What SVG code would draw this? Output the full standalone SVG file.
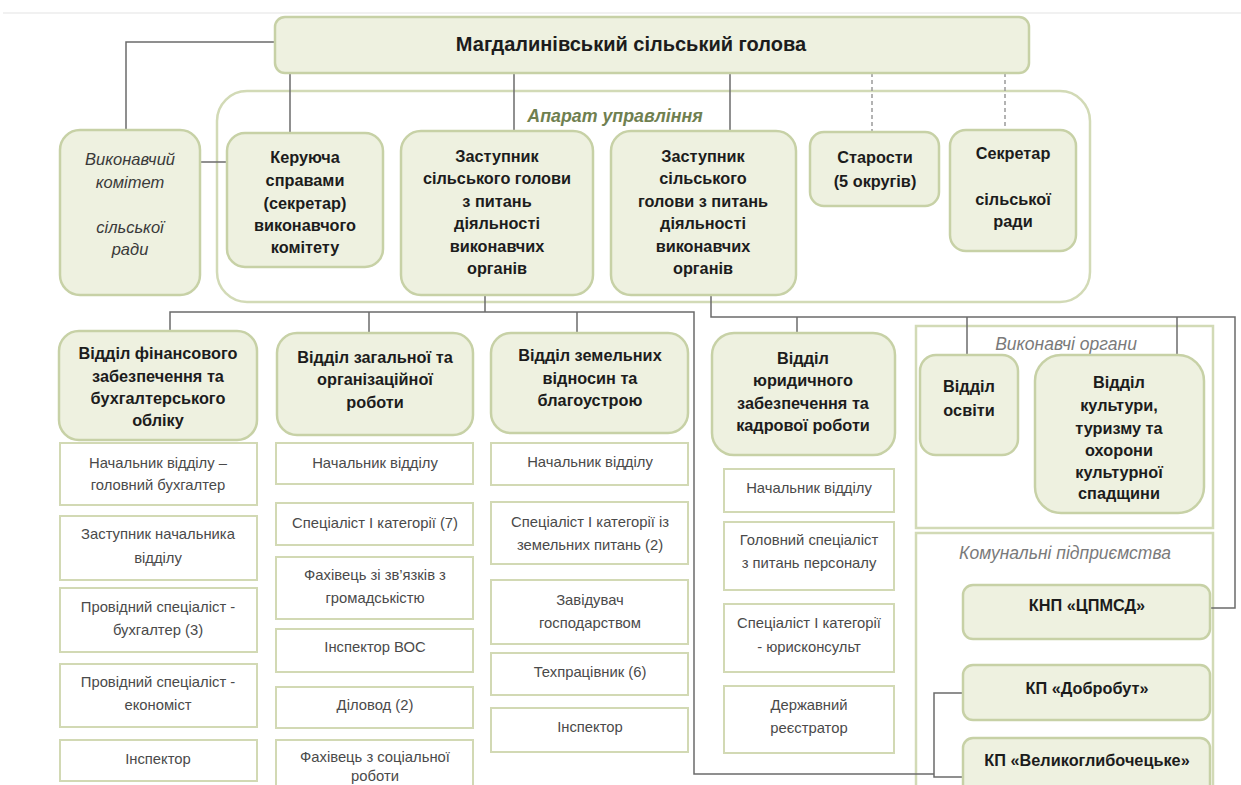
<svg xmlns="http://www.w3.org/2000/svg" width="1241" height="785" viewBox="0 0 1241 785">
<style>
.box{fill:#eef1e0;stroke:#c7d1a6;stroke-width:2.5}
.sub{fill:#fff;stroke:#d2d9b4;stroke-width:2}
.cont{fill:#fff;stroke:#d2dab6;stroke-width:2.5}
.t{font-family:"Liberation Sans",Arial,sans-serif;font-weight:bold;font-size:16.3px;fill:#1c1c1c;text-anchor:middle;dominant-baseline:central}
.s{font-family:"Liberation Sans",Arial,sans-serif;font-size:14.8px;fill:#4a4a4a;text-anchor:middle;dominant-baseline:central}
.i{font-family:"Liberation Sans",Arial,sans-serif;font-style:italic;font-size:16.5px;text-anchor:middle;dominant-baseline:central}
.ln{stroke:#6b6b6b;stroke-width:1.5;fill:none}
.dash{stroke:#9a9a9a;stroke-width:1.5;stroke-dasharray:4 3;fill:none}
</style>
<rect width="1241" height="785" fill="#fff"/>
<line x1="3" y1="13" x2="1241" y2="13" stroke="#ececec" stroke-width="1.5"/>

<g id="containers">
<rect class="cont" x="217" y="91" width="873" height="211" rx="30"/>
<text class="i" x="615" y="116" style="font-weight:bold;font-size:17.8px;fill:#6f8050">Апарат управління</text>
<rect class="cont" x="916" y="326" width="297" height="202"/>
<text class="i" x="1066" y="344" style="font-size:17.5px" fill="#7a7a7a">Виконавчі органи</text>
<rect class="cont" x="916" y="533" width="297" height="270"/>
<text class="i" x="1065" y="553" style="font-size:17.5px" fill="#7a7a7a">Комунальні підприємства</text>
</g>

<g id="connectors">
<polyline class="ln" points="275,42 126,42 126,130"/>
<line class="ln" x1="290" y1="73" x2="290" y2="133"/>
<line class="ln" x1="514" y1="73" x2="514" y2="131"/>
<line class="ln" x1="730" y1="73" x2="730" y2="131"/>
<line class="dash" x1="872" y1="73" x2="872" y2="132"/>
<line class="dash" x1="1005" y1="73" x2="1005" y2="130"/>
<line class="ln" x1="200" y1="162" x2="227" y2="162"/>
<line class="ln" x1="485" y1="295" x2="485" y2="312"/>
<polyline class="ln" points="170,333 170,312 694,312 694,774 934,774"/>
<line class="ln" x1="369" y1="312" x2="369" y2="333"/>
<line class="ln" x1="577" y1="312" x2="577" y2="333"/>
<polyline class="ln" points="963,693 934,693 934,777 963,777"/>
<polyline class="ln" points="711,295 711,317 1235,317 1235,608 1210,608"/>
<line class="ln" x1="797" y1="317" x2="797" y2="335"/>
<line class="ln" x1="967" y1="317" x2="967" y2="355"/>
<line class="ln" x1="1177" y1="317" x2="1177" y2="355"/>
</g>

<g id="holova">
<rect class="box" x="275" y="17" width="754" height="56" rx="10"/>
<text class="t" x="631" y="44" style="font-size:20px">Магдалинівський сільський голова</text>
</g>

<g id="vykonkom">
<rect class="box" x="60" y="130" width="140" height="165" rx="20"/>
<text class="i" x="130" y="159" fill="#3a3a3a">Виконавчий</text>
<text class="i" x="130" y="182" fill="#3a3a3a">комітет</text>
<text class="i" x="130" y="227" fill="#3a3a3a">сільської</text>
<text class="i" x="130" y="249" fill="#3a3a3a">ради</text>
</g>

<g id="keruycha">
<rect class="box" x="227" y="133" width="156" height="134" rx="18"/>
<text class="t" x="305" y="157">Керуюча</text>
<text class="t" x="305" y="180">справами</text>
<text class="t" x="305" y="203">(секретар)</text>
<text class="t" x="305" y="225">виконавчого</text>
<text class="t" x="305" y="247">комітету</text>
</g>

<g id="zast1">
<rect class="box" x="401" y="131" width="192" height="164" rx="20"/>
<text class="t" x="497" y="156">Заступник</text>
<text class="t" x="497" y="178">сільського голови</text>
<text class="t" x="497" y="201">з питань</text>
<text class="t" x="497" y="223">діяльності</text>
<text class="t" x="497" y="246">виконавчих</text>
<text class="t" x="497" y="268">органів</text>
</g>

<g id="zast2">
<rect class="box" x="611" y="131" width="185" height="164" rx="20"/>
<text class="t" x="703" y="156">Заступник</text>
<text class="t" x="703" y="178">сільського</text>
<text class="t" x="703" y="201">голови з питань</text>
<text class="t" x="703" y="223">діяльності</text>
<text class="t" x="703" y="246">виконавчих</text>
<text class="t" x="703" y="268">органів</text>
</g>

<g id="starosty">
<rect class="box" x="810" y="132" width="129" height="74" rx="14"/>
<text class="t" x="875" y="157">Старости</text>
<text class="t" x="875" y="181">(5 округів)</text>
</g>

<g id="sekretar">
<rect class="box" x="950" y="130" width="126" height="121" rx="16"/>
<text class="t" x="1013" y="153">Секретар</text>
<text class="t" x="1013" y="199">сільської</text>
<text class="t" x="1013" y="221">ради</text>
</g>

<g id="fin">
<rect class="box" x="59" y="331" width="198" height="109" rx="20"/>
<text class="t" x="158" y="353">Відділ фінансового</text>
<text class="t" x="158" y="376">забезпечення та</text>
<text class="t" x="158" y="398">бухгалтерського</text>
<text class="t" x="158" y="420">обліку</text>
<rect class="sub" x="60" y="443" width="197" height="62"/>
<text class="s" x="158" y="463">Начальник відділу –</text>
<text class="s" x="158" y="485">головний бухгалтер</text>
<rect class="sub" x="60" y="516" width="197" height="64"/>
<text class="s" x="158" y="534">Заступник начальника</text>
<text class="s" x="158" y="558">відділу</text>
<rect class="sub" x="60" y="588" width="197" height="64"/>
<text class="s" x="158" y="607">Провідний спеціаліст -</text>
<text class="s" x="158" y="630">бухгалтер (3)</text>
<rect class="sub" x="60" y="664" width="197" height="63"/>
<text class="s" x="158" y="682">Провідний спеціаліст -</text>
<text class="s" x="158" y="705">економіст</text>
<rect class="sub" x="60" y="740" width="197" height="41"/>
<text class="s" x="158" y="759">Інспектор</text>
</g>

<g id="zag">
<rect class="box" x="277" y="333" width="196" height="102" rx="20"/>
<text class="t" x="375" y="357">Відділ загальної та</text>
<text class="t" x="375" y="379">організаційної</text>
<text class="t" x="375" y="402">роботи</text>
<rect class="sub" x="276" y="443" width="197" height="41"/>
<text class="s" x="375" y="463">Начальник відділу</text>
<rect class="sub" x="276" y="503" width="197" height="42"/>
<text class="s" x="375" y="523">Спеціаліст І категорії (7)</text>
<rect class="sub" x="276" y="557" width="197" height="62"/>
<text class="s" x="375" y="575">Фахівець зі зв’язків з</text>
<text class="s" x="375" y="598">громадськістю</text>
<rect class="sub" x="276" y="629" width="197" height="43"/>
<text class="s" x="375" y="647">Інспектор ВОС</text>
<rect class="sub" x="276" y="687" width="197" height="41"/>
<text class="s" x="375" y="705">Діловод (2)</text>
<rect class="sub" x="276" y="740" width="197" height="60"/>
<text class="s" x="375" y="757">Фахівець з соціальної</text>
<text class="s" x="375" y="776">роботи</text>
</g>

<g id="zem">
<rect class="box" x="491" y="333" width="197" height="100" rx="20"/>
<text class="t" x="590" y="355">Відділ земельних</text>
<text class="t" x="590" y="378">відносин та</text>
<text class="t" x="590" y="400">благоустрою</text>
<rect class="sub" x="491" y="443" width="197" height="42"/>
<text class="s" x="590" y="462">Начальник відділу</text>
<rect class="sub" x="491" y="502" width="197" height="62"/>
<text class="s" x="590" y="522">Спеціаліст І категорії із</text>
<text class="s" x="590" y="545">земельних питань (2)</text>
<rect class="sub" x="491" y="580" width="197" height="64"/>
<text class="s" x="590" y="600">Завідувач</text>
<text class="s" x="590" y="623">господарством</text>
<rect class="sub" x="491" y="653" width="197" height="42"/>
<text class="s" x="590" y="672">Техпрацівник (6)</text>
<rect class="sub" x="491" y="708" width="197" height="44"/>
<text class="s" x="590" y="727">Інспектор</text>
</g>

<g id="yur">
<rect class="box" x="712" y="333" width="183" height="122" rx="22"/>
<text class="t" x="803" y="358">Відділ</text>
<text class="t" x="803" y="380">юридичного</text>
<text class="t" x="803" y="403">забезпечення та</text>
<text class="t" x="803" y="425">кадрової роботи</text>
<rect class="sub" x="724" y="469" width="170" height="43"/>
<text class="s" x="809" y="488">Начальник відділу</text>
<rect class="sub" x="724" y="522" width="170" height="68"/>
<text class="s" x="809" y="540">Головний спеціаліст</text>
<text class="s" x="809" y="563">з питань персоналу</text>
<rect class="sub" x="724" y="604" width="170" height="68"/>
<text class="s" x="809" y="623">Спеціаліст І категорії</text>
<text class="s" x="809" y="647">- юрисконсульт</text>
<rect class="sub" x="724" y="686" width="170" height="67"/>
<text class="s" x="809" y="705">Державний</text>
<text class="s" x="809" y="728">реєстратор</text>
</g>

<g id="osvita">
<rect class="box" x="920" y="355" width="98" height="100" rx="16"/>
<text class="t" x="969" y="386">Відділ</text>
<text class="t" x="969" y="410">освіти</text>
</g>

<g id="kultura">
<rect class="box" x="1035" y="355" width="169" height="158" rx="26"/>
<text class="t" x="1119" y="382">Відділ</text>
<text class="t" x="1119" y="405">культури,</text>
<text class="t" x="1119" y="428">туризму та</text>
<text class="t" x="1119" y="450">охорони</text>
<text class="t" x="1119" y="472">культурної</text>
<text class="t" x="1119" y="493">спадщини</text>
</g>

<g id="knp">
<rect class="box" x="963" y="585" width="247" height="54" rx="10"/>
<text class="t" x="1087" y="605">КНП «ЦПМСД»</text>
</g>
<g id="dobrobut">
<rect class="box" x="963" y="665" width="247" height="55" rx="10"/>
<text class="t" x="1087" y="688">КП «Добробут»</text>
</g>
<g id="velyko">
<rect class="box" x="963" y="738" width="247" height="65" rx="10"/>
<text class="t" x="1087" y="760">КП «Великоглибочецьке»</text>
</g>
</svg>
